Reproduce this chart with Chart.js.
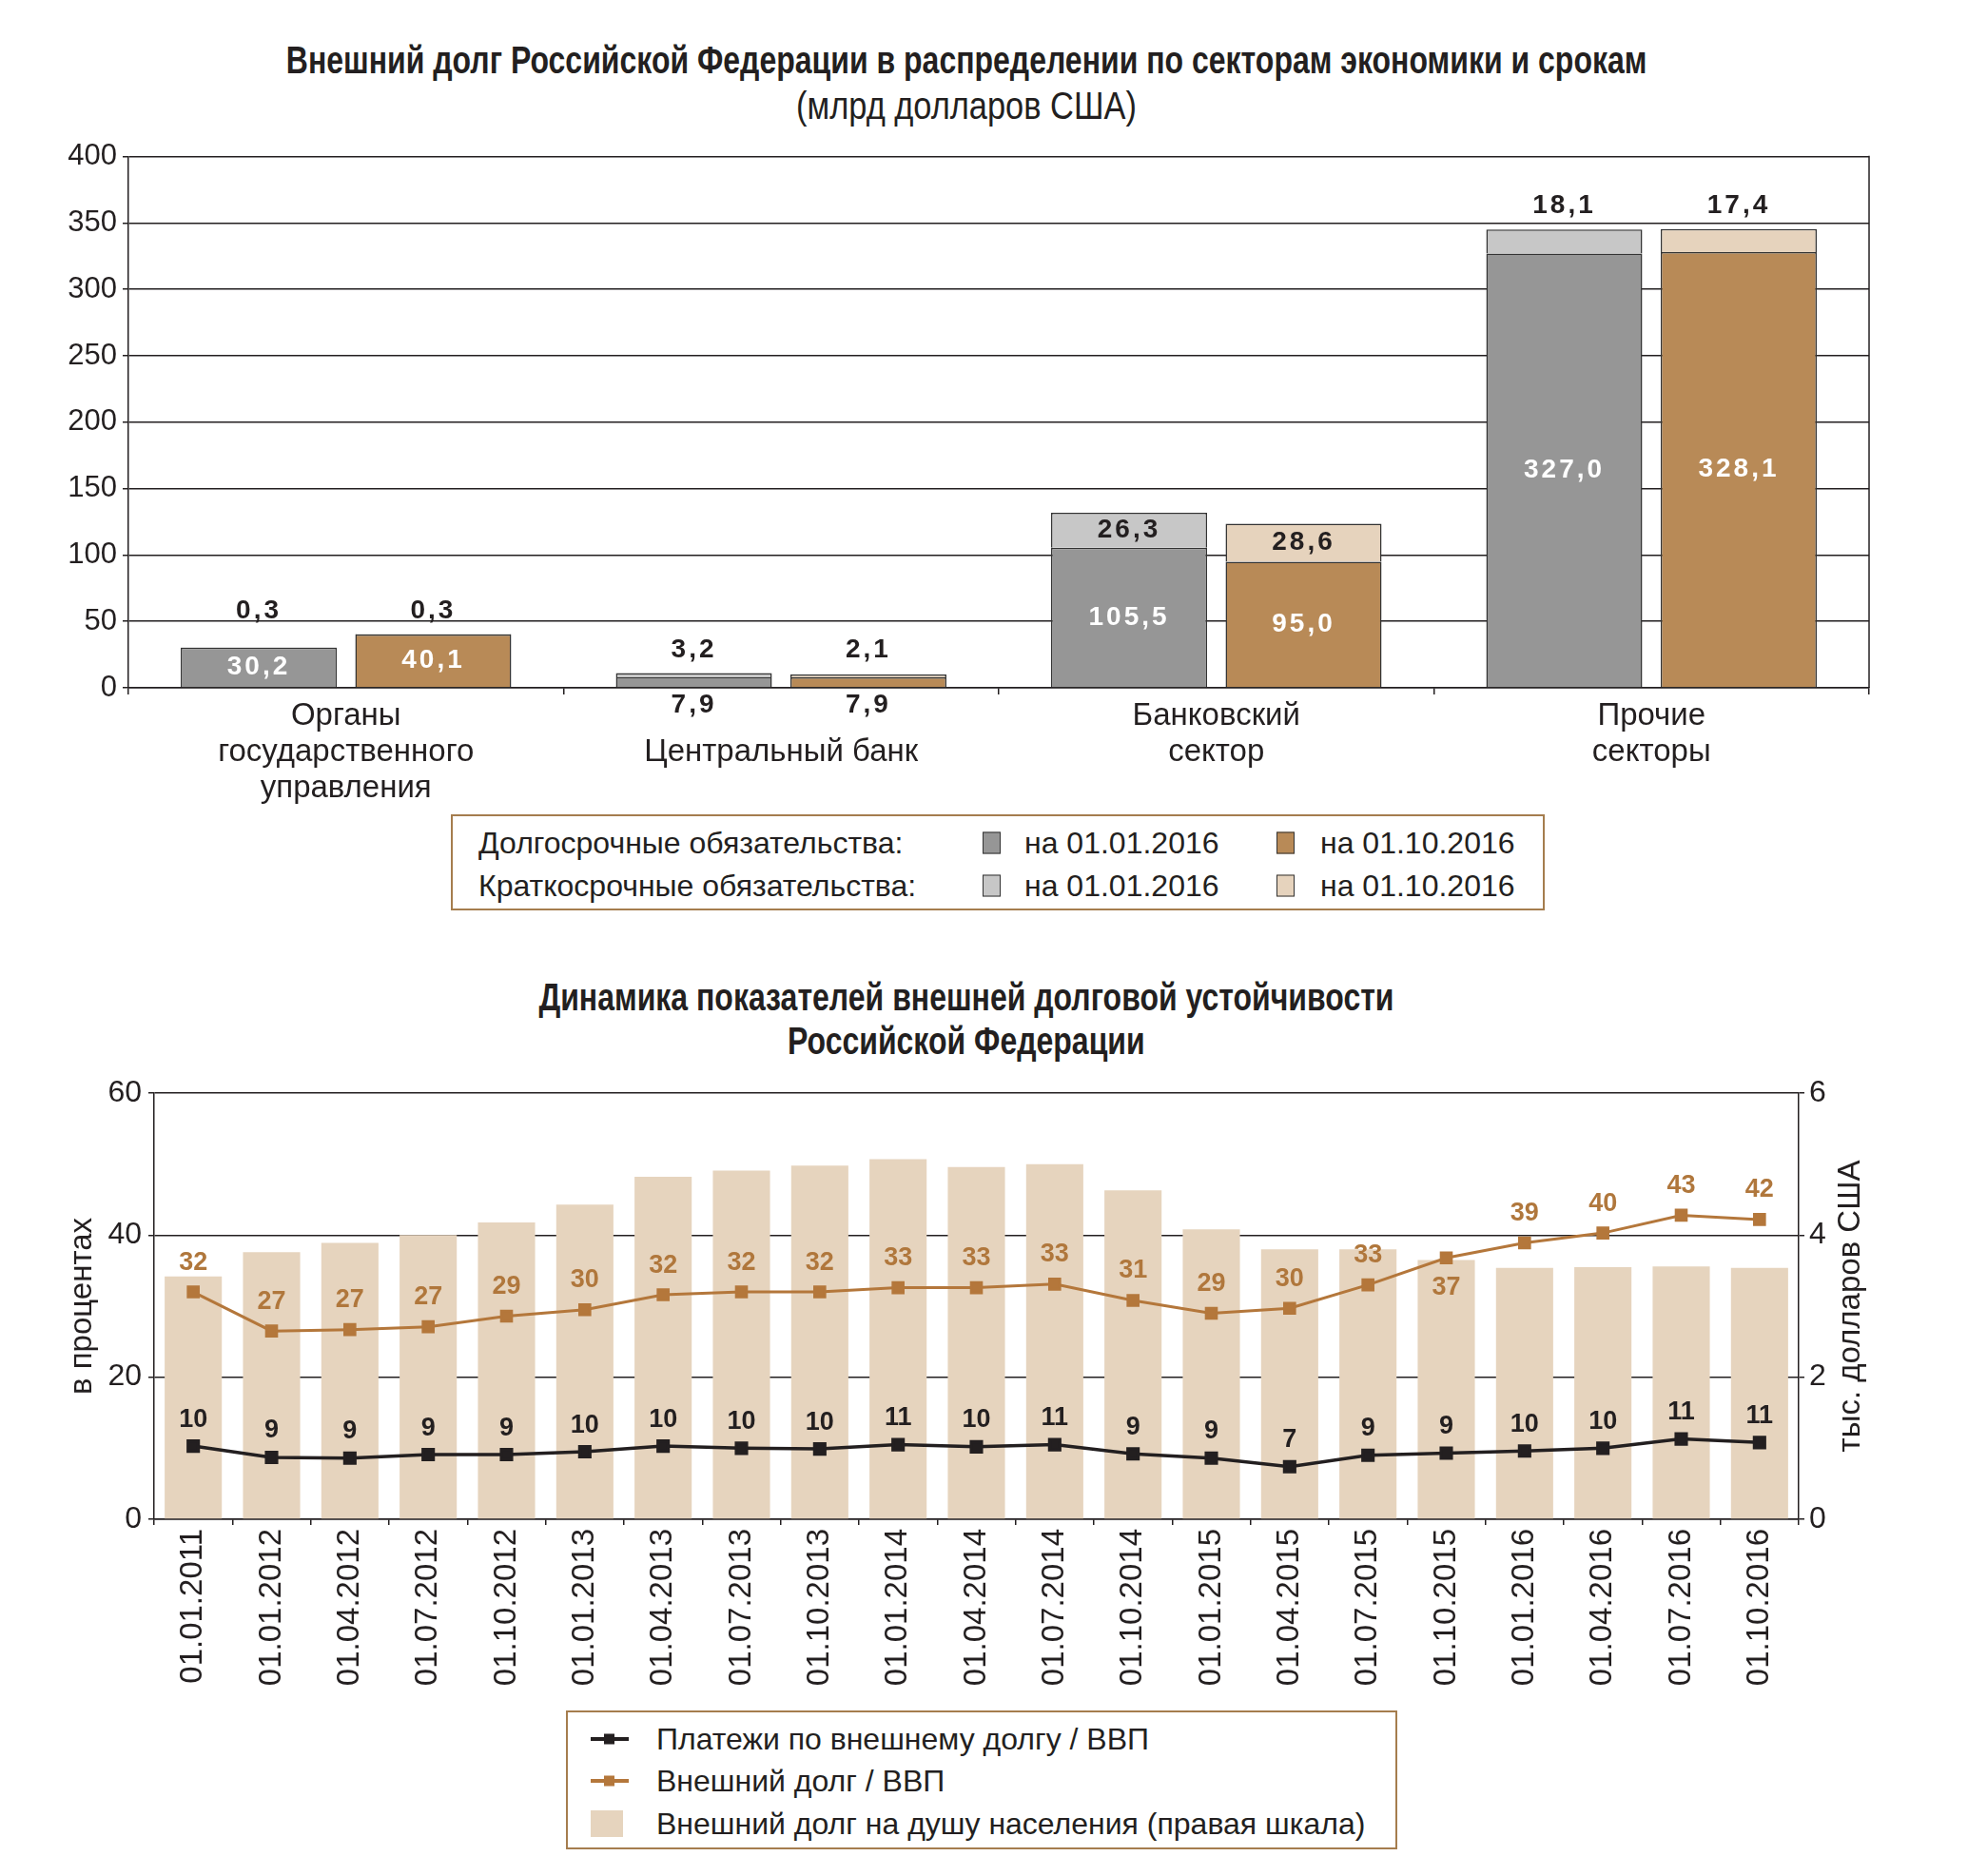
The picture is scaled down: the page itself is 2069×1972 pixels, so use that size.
<!DOCTYPE html>
<html lang="ru">
<head>
<meta charset="utf-8">
<title>Внешний долг Российской Федерации</title>
<script src="https://cdn.jsdelivr.net/npm/chart.js@4.4.1/dist/chart.umd.min.js"></script>
<style>
  body { margin: 0; background: #fff; }
  #page { position: relative; width: 2069px; height: 1972px; background: #fff; overflow: hidden;
          font-family: "Liberation Sans", Arial, sans-serif; color: #231f20; }
  .ttl { position: absolute; left: 0; width: 2032px; text-align: center; white-space: nowrap; line-height: 1; font-size: 40px; }
  .ttl span { display: inline-block; transform-origin: center; }
  .ttl.b { font-weight: bold; }
  .ttl.b span { transform: scaleX(0.8); }
  .ttl.r span { transform: scaleX(0.86); }
  .chartbox { position: absolute; left: 0; }
  .legend { position: absolute; box-sizing: border-box; border: 2px solid #a57d4e; background: #fff; font-size: 32px; }
  .legend .t { position: absolute; white-space: nowrap; line-height: 1; transform: translateY(-50%); }
  .legend .sw { position: absolute; box-sizing: border-box; transform: translateY(-50%); }
</style>
</head>
<body>
<div id="page">
  <div class="ttl b" style="top:43px"><span>Внешний долг Российской Федерации в распределении по секторам экономики и срокам</span></div>
  <div class="ttl r" style="top:91px"><span>(млрд долларов США)</span></div>
  <div class="chartbox" style="top:140px"><canvas id="debtChart" width="2069" height="710"></canvas></div>
  <div class="legend" id="legend1" style="left:474px;top:856px;width:1150px;height:101px"></div>

  <div class="ttl b" style="top:1028px"><span>Динамика показателей внешней долговой устойчивости</span></div>
  <div class="ttl b" style="top:1074px"><span>Российской Федерации</span></div>
  <div class="chartbox" style="top:1120px"><canvas id="stabilityChart" width="2069" height="670"></canvas></div>
  <div class="legend" id="legend2" style="left:595px;top:1798px;width:874px;height:146px"></div>
</div>

<script>
// ---- data: debt by sector (bn USD) ----
const sectors = [["Органы", "государственного", "управления"], ["", "Центральный банк"], ["Банковский", "сектор"], ["Прочие", "секторы"]];
const longJan = [30.2, 7.9, 105.5, 327.0];
const shortJan = [0.3, 3.2, 26.3, 18.1];
const longOct = [40.1, 7.9, 95.0, 328.1];
const shortOct = [0.3, 2.1, 28.6, 17.4];
const sectorTicks = [0, 50, 100, 150, 200, 250, 300, 350, 400];

// ---- data: debt sustainability ----
const dates = ["01.01.2011", "01.01.2012", "01.04.2012", "01.07.2012", "01.10.2012", "01.01.2013", "01.04.2013",
  "01.07.2013", "01.10.2013", "01.01.2014", "01.04.2014", "01.07.2014", "01.10.2014", "01.01.2015", "01.04.2015",
  "01.07.2015", "01.10.2015", "01.01.2016", "01.04.2016", "01.07.2016", "01.10.2016"];
const paymentsToGdp = [10.3, 8.7, 8.6, 9.1, 9.1, 9.5, 10.3, 10.0, 9.9, 10.5, 10.2, 10.5, 9.2, 8.6, 7.4, 9.0, 9.3, 9.6, 10.0, 11.3, 10.8];
const debtToGdp = [32.0, 26.5, 26.7, 27.1, 28.6, 29.5, 31.6, 32.0, 32.0, 32.6, 32.6, 33.1, 30.8, 29.0, 29.7, 33.0, 36.8, 38.9, 40.3, 42.8, 42.2];
const debtPerCapita = [3.42, 3.76, 3.89, 4.00, 4.18, 4.43, 4.82, 4.91, 4.98, 5.07, 4.96, 5.00, 4.63, 4.08, 3.80, 3.80, 3.65, 3.54, 3.55, 3.56, 3.54];
const percentTicks = [0, 20, 40, 60];
const perCapitaTicks = [0, 2, 4, 6];

const ink = '#231f20';
const font = '"Liberation Sans", Arial, sans-serif';
const colors = {
  longJan: '#969696', shortJan: '#c7c7c7', longOct: '#b88a57', shortOct: '#e6d3bd',
  payments: '#231f20', debt: '#b4773b', perCapita: '#e6d4be'
};

function fmt(v) {
  return v.toFixed(1).replace('.', ',');
}

function fixedTicks(values) {
  return scale => { scale.ticks = values.map(v => ({ value: v })); };
}

// labels for the stacked bars
const barLabels = {
  id: 'barLabels',
  afterDatasetsDraw(chart) {
    const ctx = chart.ctx;
    const zero = chart.scales.y.getPixelForValue(0);
    const pairs = [[0, 1], [2, 3]];
    ctx.save();
    ctx.font = 'bold 28px ' + font;
    ctx.letterSpacing = '3px';
    ctx.textAlign = 'center';
    ctx.textBaseline = 'middle';
    sectors.forEach((_, i) => {
      const top = Math.min(...pairs.map(p => chart.getDatasetMeta(p[1]).data[i].y));
      pairs.forEach(([l, s]) => {
        const lb = chart.getDatasetMeta(l).data[i];
        const sb = chart.getDatasetMeta(s).data[i];
        const lv = chart.data.datasets[l].data[i];
        const sv = chart.data.datasets[s].data[i];
        if (lb.base - lb.y >= 35) {
          ctx.fillStyle = '#fff';
          ctx.fillText(fmt(lv), lb.x, (lb.y + lb.base) / 2);
        } else {
          ctx.fillStyle = ink;
          ctx.fillText(fmt(lv), lb.x, zero + 18);
        }
        ctx.fillStyle = ink;
        if (sb.base - sb.y >= 35) {
          ctx.fillText(fmt(sv), sb.x, (sb.y + sb.base) / 2);
        } else {
          ctx.fillText(fmt(sv), sb.x, top - 24);
        }
      });
    });
    ctx.restore();
  }
};

const rightEdge = {
  id: 'rightEdge',
  afterDatasetsDraw(chart) {
    const { ctx, chartArea: a } = chart;
    ctx.save();
    ctx.strokeStyle = ink;
    ctx.lineWidth = 1.5;
    ctx.beginPath();
    ctx.moveTo(a.right, a.top - 0.75);
    ctx.lineTo(a.right, a.bottom);
    ctx.stroke();
    ctx.restore();
  }
};

new Chart(document.getElementById('debtChart'), {
  type: 'bar',
  data: {
    labels: sectors,
    datasets: [
      { label: 'Долгосрочные обязательства на 01.01.2016', data: longJan, stack: 'jan', backgroundColor: colors.longJan },
      { label: 'Краткосрочные обязательства на 01.01.2016', data: shortJan, stack: 'jan', backgroundColor: colors.shortJan },
      { label: 'Долгосрочные обязательства на 01.10.2016', data: longOct, stack: 'oct', backgroundColor: colors.longOct },
      { label: 'Краткосрочные обязательства на 01.10.2016', data: shortOct, stack: 'oct', backgroundColor: colors.shortOct }
    ]
  },
  options: {
    responsive: false,
    animation: false,
    layout: { padding: { top: 23, right: 104, left: 0, bottom: 0 } },
    datasets: { bar: { categoryPercentage: 0.802, barPercentage: 0.894, borderColor: '#333', borderWidth: 1.5 } },
    plugins: { legend: { display: false }, tooltip: { enabled: false } },
    scales: {
      x: {
        stacked: true,
        grid: { drawOnChartArea: false, color: ink, lineWidth: 1.5, tickLength: 7 },
        border: { color: ink, width: 1.5 },
        ticks: { color: ink, font: { family: font, size: 33, lineHeight: 1.15 }, padding: 4, maxRotation: 0, autoSkip: false },
        afterFit: s => { s.height = 127; }
      },
      y: {
        stacked: true, min: 0, max: 400,
        afterBuildTicks: fixedTicks(sectorTicks),
        grid: { color: ink, lineWidth: 1.5, tickLength: 6 },
        border: { color: ink, width: 1.5 },
        ticks: { color: ink, font: { family: font, size: 31 }, padding: 6 },
        afterFit: s => { s.width = 135; }
      }
    }
  },
  plugins: [barLabels, rightEdge]
});

// value labels for the two lines
const pointLabels = {
  id: 'pointLabels',
  afterDatasetsDraw(chart, args, opts) {
    const ctx = chart.ctx;
    ctx.save();
    ctx.font = 'bold 27px ' + font;
    ctx.textAlign = 'center';
    ctx.textBaseline = 'middle';
    opts.series.forEach(sr => {
      const meta = chart.getDatasetMeta(sr.index);
      ctx.fillStyle = sr.color;
      meta.data.forEach((pt, i) => {
        const v = chart.data.datasets[sr.index].data[i];
        const dy = sr.below.includes(i) ? sr.gap : -sr.gap;
        ctx.fillText(String(Math.round(v)), pt.x, pt.y + dy);
      });
    });
    ctx.restore();
  }
};

const axisTitles = {
  id: 'axisTitles',
  afterDraw(chart, args, opts) {
    const { ctx, chartArea: a } = chart;
    const cy = (a.top + a.bottom) / 2;
    ctx.save();
    ctx.font = '33px ' + font;
    ctx.fillStyle = ink;
    ctx.textAlign = 'center';
    ctx.textBaseline = 'middle';
    [[a.left - 75, opts.left], [a.right + 55, opts.right]].forEach(([x, t]) => {
      ctx.save();
      ctx.translate(x, cy);
      ctx.rotate(-Math.PI / 2);
      ctx.fillText(t, 0, 0);
      ctx.restore();
    });
    ctx.restore();
  }
};

new Chart(document.getElementById('stabilityChart'), {
  type: 'bar',
  data: {
    labels: dates,
    datasets: [
      {
        type: 'line', label: 'Платежи по внешнему долгу / ВВП', data: paymentsToGdp, yAxisID: 'y', order: 1,
        borderColor: colors.payments, backgroundColor: colors.payments, borderWidth: 3.5,
        pointStyle: 'rect', pointRadius: 7.5, tension: 0
      },
      {
        type: 'line', label: 'Внешний долг / ВВП', data: debtToGdp, yAxisID: 'y', order: 2,
        borderColor: colors.debt, backgroundColor: colors.debt, borderWidth: 3,
        pointStyle: 'rect', pointRadius: 7.5, tension: 0
      },
      {
        type: 'bar', label: 'Внешний долг на душу населения (правая шкала)', data: debtPerCapita, yAxisID: 'y1', order: 3,
        backgroundColor: colors.perCapita, barPercentage: 0.73, categoryPercentage: 1
      }
    ]
  },
  options: {
    responsive: false,
    animation: false,
    layout: { padding: { top: 29, right: 0, left: 0, bottom: 0 } },
    plugins: {
      legend: { display: false },
      tooltip: { enabled: false },
      pointLabels: {
        series: [
          { index: 0, color: ink, gap: 28, below: [] },
          { index: 1, color: '#b0773c', gap: 31, below: [16] }
        ]
      },
      axisTitles: { left: 'в процентах', right: 'тыс. долларов США' }
    },
    scales: {
      x: {
        grid: { drawOnChartArea: false, color: ink, lineWidth: 1.5, tickLength: 6 },
        border: { color: ink, width: 1.5 },
        ticks: { color: ink, font: { family: font, size: 33 }, padding: 4, minRotation: 90, maxRotation: 90, autoSkip: false },
        afterFit: s => { s.height = 193; }
      },
      y: {
        position: 'left', min: 0, max: 60,
        afterBuildTicks: fixedTicks(percentTicks),
        grid: { color: ink, lineWidth: 1.5, tickLength: 6 },
        border: { color: ink, width: 1.5 },
        ticks: { color: ink, font: { family: font, size: 32 }, padding: 7 },
        afterFit: s => { s.width = 162; }
      },
      y1: {
        position: 'right', min: 0, max: 6,
        afterBuildTicks: fixedTicks(perCapitaTicks),
        grid: { drawOnChartArea: false, color: ink, lineWidth: 1.5, tickLength: 6 },
        border: { color: ink, width: 1.5 },
        ticks: { color: ink, font: { family: font, size: 32 }, padding: 5 },
        afterFit: s => { s.width = 178; }
      }
    }
  },
  plugins: [pointLabels, axisTitles]
});

// ---- legends (html) ----
function text(box, str, x, y) {
  const el = document.createElement('div');
  el.className = 't';
  el.textContent = str;
  el.style.left = x + 'px';
  el.style.top = y + 'px';
  box.appendChild(el);
}
function swatch(box, color, x, y, w, h, border) {
  const el = document.createElement('div');
  el.className = 'sw';
  el.style.cssText = `left:${x}px;top:${y}px;width:${w}px;height:${h}px;background:${color};` + (border ? 'border:1.5px solid #333;' : '');
  box.appendChild(el);
}

const leg1 = document.getElementById('legend1');
[['Долгосрочные обязательства:', colors.longJan, colors.longOct, 28],
 ['Краткосрочные обязательства:', colors.shortJan, colors.shortOct, 73]].forEach(([label, c1, c2, y]) => {
  text(leg1, label, 27, y);
  swatch(leg1, c1, 557, y, 19, 23, true);
  text(leg1, 'на 01.01.2016', 601, y);
  swatch(leg1, c2, 866, y, 19, 23, true);
  text(leg1, 'на 01.10.2016', 912, y);
});

const leg2 = document.getElementById('legend2');
[['Платежи по внешнему долгу / ВВП', colors.payments, 28],
 ['Внешний долг / ВВП', colors.debt, 72]].forEach(([label, c, y]) => {
  swatch(leg2, c, 24, y, 40, 4, false);
  swatch(leg2, c, 38, y, 11, 11, false);
  text(leg2, label, 93, y);
});
swatch(leg2, colors.perCapita, 24, 117, 34, 28, false);
text(leg2, 'Внешний долг на душу населения (правая шкала)', 93, 117);
</script>
</body>
</html>
